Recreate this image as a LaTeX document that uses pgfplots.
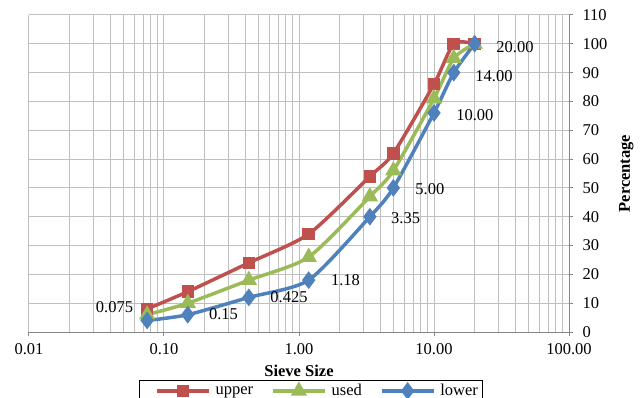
\documentclass[border=0pt]{standalone}
\usepackage{fontspec}
\setmainfont{Liberation Serif}
\usepackage{pgfplots}
\pgfplotsset{compat=1.18}
\definecolor{cup}{HTML}{C0504D}
\definecolor{cused}{HTML}{9BBB59}
\definecolor{clow}{HTML}{4F81BD}
\definecolor{gridc}{HTML}{BFBFBF}
\definecolor{axc}{HTML}{868686}
\newcommand{\fs}{\fontsize{16.5bp}{19bp}\selectfont}
\begin{document}
\begin{tikzpicture}
\begin{axis}[name=ax, scale only axis, width=540bp, height=317bp,
  xmode=log, xmin=0.01, xmax=100, ymin=0, ymax=110,
  xtick={0.01,0.1,1,10,100},
  xticklabels={0.01,0.10,1.00,10.00,100.00},
  minor xtick={0.02,0.03,0.04,0.05,0.06,0.07,0.08,0.09,
               0.2,0.3,0.4,0.5,0.6,0.7,0.8,0.9,
               2,3,4,5,6,7,8,9,20,30,40,50,60,70,80,90},
  ytick={0,10,...,110},
  axis x line*=bottom, axis y line*=right,
  axis line style={axc, line width=1bp},
  every outer x axis line/.append style={-},
  every outer y axis line/.append style={-},
  tick align=outside, major tick length=4bp, minor tick length=0bp,
  tick style={axc, line width=1bp},
  xmajorgrids, xminorgrids, ymajorgrids,
  major grid style={gridc, line width=1bp},
  minor grid style={gridc, line width=1bp},
  /pgf/number format/assume math mode=true,
  ticklabel style={font=\fs},
  xticklabel style={yshift=-4bp},
  yticklabel style={xshift=6bp},
  xlabel={\textbf{Sieve Size}}, ylabel={\textbf{Percentage}},
  xlabel style={font=\fs, yshift=-3bp},
  ylabel style={font=\fs, yshift=-5bp},
  legend columns=3,
  legend style={at={(0.5,0)}, anchor=north, yshift=-48bp, xshift=12bp,
    draw=black, line width=1bp, font=\fs, inner xsep=3bp,
    /tikz/every even column/.append style={column sep=3bp},
    /tikz/every odd column/.append style={column sep=3bp}},
  legend image code/.code={\path (-13bp,0bp) (52bp,0bp);\draw[mark repeat=2,mark phase=2] plot coordinates {(0bp,0bp)(26bp,0bp)(52bp,0bp)};},
  every axis plot/.append style={line width=3.5bp, smooth, tension=0.4},
]
\addplot[cup, mark=square*, mark size=4.5bp, mark options={solid}] coordinates {
(0.075,8) (0.15,14) (0.425,24) (1.18,34) (3.35,54) (5,62) (10,86) (14,100) (20,100)};
\addlegendentry{upper}
\addplot[cused, mark=triangle*, mark size=6bp] coordinates {
(0.075,6) (0.15,10) (0.425,18) (1.18,26) (3.35,47) (5,56) (10,81) (14,95) (20,100)};
\addlegendentry{used}
\addplot[clow, mark=diamond*, mark size=6bp] coordinates {
(0.075,4) (0.15,6) (0.425,12) (1.18,18) (3.35,40) (5,50) (10,76) (14,90) (20,100)};
\addlegendentry{lower}
\node[font=\fs] at (axis cs:0.043,8.7) {0.075};
\node[font=\fs] at (axis cs:0.276,6.25) {0.15};
\node[font=\fs] at (axis cs:0.843,12.2) {0.425};
\node[font=\fs] at (axis cs:2.21,18) {1.18};
\node[font=\fs] at (axis cs:6.17,39.6) {3.35};
\node[font=\fs] at (axis cs:9.33,49.7) {5.00};
\node[font=\fs] at (axis cs:20.1,75.3) {10.00};
\node[font=\fs] at (axis cs:27.8,88.9) {14.00};
\node[font=\fs] at (axis cs:39.8,99) {20.00};
\end{axis}
\pgfresetboundingbox
\path[use as bounding box] ([xshift=-29bp,yshift=-66bp]ax.south west) rectangle ([xshift=71bp,yshift=15bp]ax.north east);
\end{tikzpicture}
\end{document}
